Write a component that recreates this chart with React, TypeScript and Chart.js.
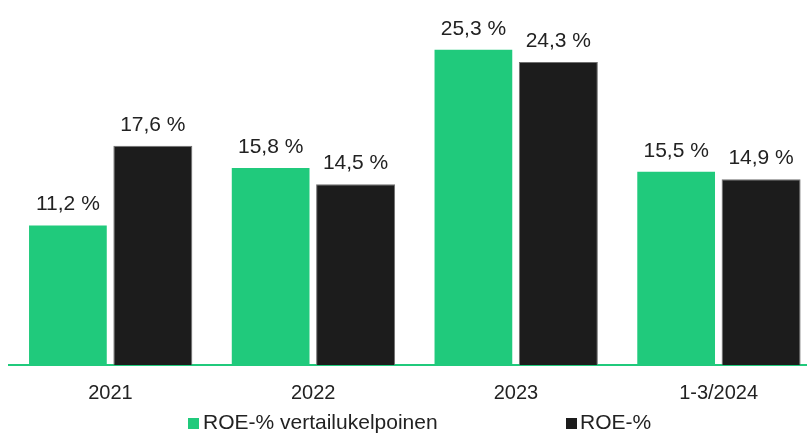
import React, { useEffect, useRef } from "react";
import { Chart, registerables } from "chart.js";

Chart.register(...registerables);

const categories = ["2021", "2022", "2023", "1-3/2024"];
const seriesNames = ["ROE-% vertailukelpoinen", "ROE-%"];
const comparableRoe = [11.2, 15.8, 25.3, 15.5];
const roe = [17.6, 14.5, 24.3, 14.9];

const GREEN = "#20ca7c";
const BLACK = "#1c1c1c";
const TEXT = "#222222";
const FONT = "'Liberation Sans', Arial, sans-serif";

const fmt = (v: number) => v.toFixed(1).replace(".", ",") + " %";

const valueLabels = {
  id: "valueLabels",
  afterDatasetsDraw(chart: any) {
    const ctx = chart.ctx;
    ctx.save();
    ctx.font = `21px ${FONT}`;
    ctx.fillStyle = TEXT;
    ctx.textAlign = "center";
    ctx.textBaseline = "alphabetic";
    chart.data.datasets.forEach((ds: any, i: number) => {
      const meta = chart.getDatasetMeta(i);
      meta.data.forEach((el: any, j: number) => {
        ctx.fillText(fmt(ds.data[j]), el.x, el.y - 15);
      });
    });
    ctx.restore();
  },
};

export default function App() {
  const ref = useRef<HTMLCanvasElement>(null);

  useEffect(() => {
    if (!ref.current) return;
    const chart = new Chart(ref.current, {
      type: "bar",
      data: {
        labels: categories,
        datasets: [
          {
            label: seriesNames[0],
            data: comparableRoe,
            backgroundColor: GREEN,
            borderWidth: 0,
            categoryPercentage: 0.838,
            barPercentage: 0.915,
          },
          {
            label: seriesNames[1],
            data: roe,
            backgroundColor: BLACK,
            borderColor: "#707070",
            borderWidth: 1,
            categoryPercentage: 0.838,
            barPercentage: 0.93,
          },
        ],
      },
      options: {
        animation: false,
        responsive: false,
        maintainAspectRatio: false,
        layout: { padding: { left: 9, right: 2, top: 16, bottom: 12 } },
        plugins: {
          legend: { display: false },
          tooltip: { enabled: false },
        },
        scales: {
          x: {
            grid: { display: false, drawTicks: false },
            border: { display: true, color: GREEN, width: 2 },
            ticks: {
              padding: 16,
              color: TEXT,
              font: { family: FONT, size: 20 },
            },
          },
          y: {
            display: false,
            min: 0,
            max: 28,
          },
        },
      },
      plugins: [valueLabels],
    });
    return () => chart.destroy();
  }, []);

  const legendColors = [GREEN, BLACK];
  const boxLefts = [188, 566];
  const textLefts = [203, 580];

  return (
    <div
      style={{
        position: "fixed",
        left: 0,
        top: 0,
        width: 807,
        height: 433,
        overflow: "hidden",
        background: "#ffffff",
      }}
    >
      <canvas ref={ref} width={822} height={433} style={{ display: "block", width: 822, height: 433 }} />
      {seriesNames.map((name, i) => (
        <React.Fragment key={name}>
          <div
            style={{
              position: "absolute",
              left: boxLefts[i],
              top: 418,
              width: 11,
              height: 11,
              background: legendColors[i],
            }}
          />
          <span
            style={{
              position: "absolute",
              left: textLefts[i],
              top: 411,
              fontFamily: FONT,
              fontSize: 21,
              lineHeight: "21px",
              color: TEXT,
              whiteSpace: "nowrap",
            }}
          >
            {name}
          </span>
        </React.Fragment>
      ))}
    </div>
  );
}
